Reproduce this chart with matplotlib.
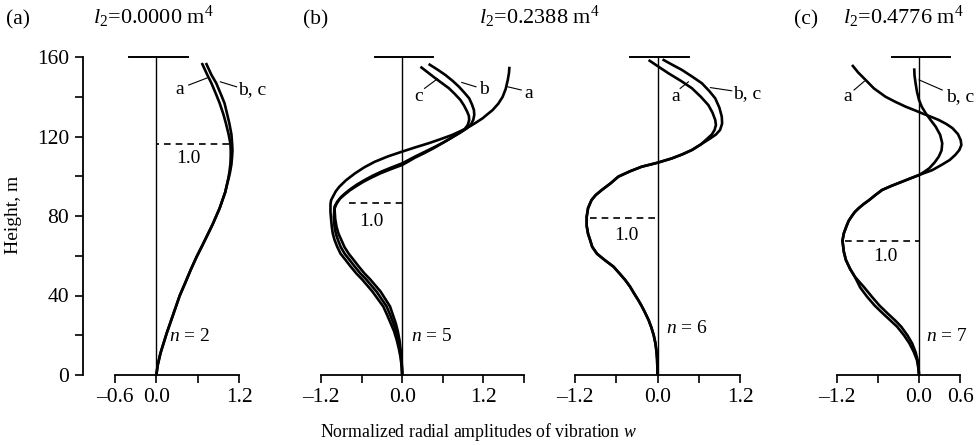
import matplotlib
matplotlib.use("Agg")
import matplotlib.pyplot as plt
from matplotlib.ticker import FixedLocator, FixedFormatter

plt.rcParams['font.family'] = ['Liberation Serif', 'DejaVu Serif']
plt.rcParams['mathtext.fontset'] = 'custom'
plt.rcParams['mathtext.rm'] = 'Liberation Serif'
plt.rcParams['mathtext.it'] = 'Liberation Serif:italic'

# ---------------- data ----------------
# Panel (a), n = 2
a_h = [0, 5, 11, 16, 21, 27, 33, 40, 46, 53, 59.5, 65, 71, 76, 80, 84, 88, 92, 95, 99, 102,
       106, 110, 113, 116.4, 121, 126.6, 131, 136.7, 141, 146.8, 151, 154, 157]
a_wa = [0, 0.02, 0.06, 0.105, 0.15, 0.21, 0.27, 0.34, 0.415, 0.50, 0.585, 0.665, 0.75, 0.82,
        0.87, 0.92, 0.96, 1.0, 1.02, 1.045, 1.06, 1.075, 1.08, 1.08, 1.075, 1.05, 1.01, 0.975,
        0.92, 0.87, 0.80, 0.74, 0.70, 0.66]
a_wbc = [0, 0.02, 0.06, 0.105, 0.15, 0.21, 0.27, 0.34, 0.415, 0.50, 0.585, 0.665, 0.75, 0.82,
         0.87, 0.92, 0.96, 1.0, 1.02, 1.05, 1.07, 1.09, 1.10, 1.105, 1.10, 1.09, 1.06, 1.03,
         0.99, 0.94, 0.87, 0.80, 0.76, 0.72]

# Panel (b) left, n = 5
b5_ha = [0, 4, 9, 13, 17.5, 22, 26, 30, 34.5, 38, 42, 45, 48, 51, 54.5, 58, 61, 64.5, 68, 71,
         74.5, 78, 82, 86, 88, 90, 92.5, 94.7, 98, 101.4, 104.5, 107.3, 110, 112.4, 114.5, 116.6,
         118.7, 120.8, 123, 125.3, 127.2, 129.2, 131.2, 133.3, 136.5, 140, 144, 148.4, 152, 155.1]
b5_wa = [0, -0.007, -0.025, -0.048, -0.08, -0.12, -0.17, -0.22, -0.28, -0.355, -0.44, -0.515,
         -0.59, -0.675, -0.76, -0.84, -0.91, -0.96, -1.0, -1.025, -1.04, -1.05, -1.06, -1.06,
         -1.05, -1.02, -0.98, -0.93, -0.83, -0.70, -0.56, -0.405, -0.21, 0, 0.19, 0.39, 0.57,
         0.74, 0.88, 1.01, 1.10, 1.19, 1.26, 1.336, 1.42, 1.485, 1.53, 1.56, 1.578, 1.585]
b5_hb = [0, 4, 9, 13, 17.5, 22, 26, 30, 34.5, 38, 42, 45, 48, 51, 54.5, 58, 61, 64.5, 68, 71,
         74.5, 79.5, 84.7, 87.2, 89.7, 91.8, 93.9, 96, 98.1, 100.2, 102.3, 104.4, 106.5, 108.2,
         109.9, 112.4, 114.9, 117.2, 119.6, 122, 124.2, 126.3, 128.3, 130.8, 133.3, 136.2,
         139.2, 142, 145, 148, 150.9, 153.7, 156.5]
b5_wb = [0, -0.005, -0.018, -0.035, -0.057, -0.09, -0.13, -0.175, -0.23, -0.30, -0.38, -0.455,
         -0.53, -0.615, -0.70, -0.78, -0.85, -0.91, -0.95, -0.98, -1.0, -1.01, -1.0, -0.96, -0.9,
         -0.83, -0.75, -0.66, -0.555, -0.44, -0.31, -0.16, 0, 0.095, 0.19, 0.34, 0.49, 0.62,
         0.74, 0.86, 0.96, 1.02, 1.05, 1.065, 1.06, 1.03, 0.99, 0.92, 0.84, 0.745, 0.64, 0.52,
         0.39]
b5_hc = [0, 4, 9, 13, 17.5, 22, 26, 30, 34.5, 38, 42, 45, 48, 51, 54.5, 58, 61, 64.5, 68, 71,
         74.5, 78.5, 83.7, 86.2, 88.7, 90.8, 93, 95.1, 97.3, 99.4, 101.5, 103.6, 105.7, 107.4,
         109.2, 111.7, 114.2, 116.6, 119, 121.3, 123.5, 125.9, 128.3, 130.4, 132.5, 135.5,
         138.4, 141.3, 144.3, 146.8, 149.3, 152.2, 155.1]
b5_wc = [0, -0.003, -0.012, -0.024, -0.04, -0.065, -0.095, -0.135, -0.18, -0.245, -0.32,
         -0.395, -0.47, -0.555, -0.64, -0.72, -0.79, -0.855, -0.90, -0.94, -0.97, -0.99, -1.0,
         -0.97, -0.92, -0.85, -0.77, -0.675, -0.57, -0.45, -0.32, -0.165, 0, 0.09, 0.18, 0.33,
         0.47, 0.59, 0.71, 0.82, 0.92, 0.97, 0.99, 0.985, 0.96, 0.915, 0.86, 0.78, 0.69, 0.59,
         0.49, 0.38, 0.27]

# Panel (b) right, n = 6 (shared lower part, then separate tops)
b6_h_low = [0, 4, 8, 12, 15.9, 20, 24, 27.7, 32, 35, 37.7, 41, 44.5, 47.8, 51, 54.5, 57.9, 61,
            64.5, 67.9, 71, 75, 79.6, 84, 88, 90.5, 93.1, 96.5, 99.8, 102.5, 104.8, 106.8, 109,
            111, 113.2, 116]
b6_w_low = [0, -0.002, -0.006, -0.015, -0.03, -0.055, -0.09, -0.13, -0.19, -0.235, -0.28, -0.34,
            -0.40, -0.47, -0.55, -0.64, -0.77, -0.88, -0.95, -0.98, -1.01, -1.03, -1.03, -1.01,
            -0.96, -0.90, -0.81, -0.68, -0.57, -0.40, -0.23, 0, 0.21, 0.36, 0.5, 0.63]
b6_h_a = [119.1, 121, 123.3, 125.8, 128.3, 132, 135.8, 140, 144.3, 148, 151.8, 155, 158.5]
b6_w_a = [0.73, 0.79, 0.83, 0.85, 0.84, 0.80, 0.74, 0.63, 0.50, 0.34, 0.16, 0.02, -0.13]
b6_h_bc = [119.1, 121, 123.3, 126.5, 130, 134.5, 139.2, 143, 146.8, 150, 153.5, 156, 158.8]
b6_w_bc = [0.77, 0.85, 0.91, 0.94, 0.935, 0.90, 0.84, 0.75, 0.645, 0.51, 0.355, 0.22, 0.073]

# Panel (c), n = 7
c_h_a = [0, 3.5, 7.5, 11.5, 15.9, 20, 24.3, 27.5, 31, 35, 39.4, 44, 49.5, 53.5, 57.9, 62, 67.6,
         71.3, 75, 77.5, 79.6, 82, 84, 86, 88, 90.5, 93.1, 95.2, 97.3, 99, 100.6, 103.1, 105.7,
         108.2, 110.7, 113.2, 115.7, 118.2, 121.2, 124.2, 126.3, 128.3, 130, 131.6, 133.3, 135,
         137.5, 140, 144.2, 148.4, 152.2, 156]
c_w_a = [0, -0.01, -0.03, -0.075, -0.14, -0.22, -0.32, -0.42, -0.53, -0.65, -0.76, -0.86, -0.94,
         -1.01, -1.07, -1.10, -1.12, -1.10, -1.06, -1.03, -0.99, -0.94, -0.88, -0.81, -0.73,
         -0.64, -0.54, -0.40, -0.245, -0.12, 0, 0.195, 0.33, 0.45, 0.53, 0.59, 0.62, 0.61, 0.57,
         0.49, 0.40, 0.29, 0.17, 0.05, -0.07, -0.195, -0.35, -0.49, -0.66, -0.78, -0.89, -0.98]
c_h_bc = [0, 3.5, 7.5, 11.5, 15.9, 20, 24.3, 27.5, 31, 35, 39.4, 44, 49.5, 53.5, 57.9, 62, 67.6,
          71.3, 75, 77.5, 79.6, 82, 84, 86, 88, 90.5, 93.1, 95.2, 97.3, 99, 100.6, 102.3, 104,
          107, 109.9, 113, 116.6, 120.8, 124.9, 128.3, 131.6, 135, 138.4, 142.6, 146.8, 150.5,
          154.3]
c_w_bc = [0, -0.006, -0.02, -0.05, -0.10, -0.17, -0.26, -0.35, -0.46, -0.58, -0.69, -0.80,
          -0.94, -1.01, -1.07, -1.10, -1.12, -1.10, -1.06, -1.03, -0.99, -0.94, -0.88, -0.81,
          -0.73, -0.64, -0.54, -0.40, -0.245, -0.12, 0, 0.08, 0.15, 0.23, 0.29, 0.33, 0.34,
          0.31, 0.245, 0.17, 0.10, 0.04, 0.0, -0.03, -0.05, -0.065, -0.07]

titles = [r'$l_2$=0.0000 m$^4$', r'$l_2$=0.2388 m$^4$', r'$l_2$=0.4776 m$^4$']
panel_tags = ['(a)', '(b)', '(c)']
mode_labels = [r'$n$ = 2', r'$n$ = 5', r'$n$ = 6', r'$n$ = 7']
yticks_major = [0, 40, 80, 120, 160]
yticks_minor = [20, 60, 100, 140]

# ---------------- figure ----------------
W, H = 980, 445
fig = plt.figure(figsize=(W / 100, H / 100), dpi=100)
Y0, Y1 = 375, 57
FS = 14
TFS = 15.5
LW = 1.9


def make_ax(x0, x1, xlim, ticks, labels, left_spine=False):
    ax = fig.add_axes([x0 / W, 1 - Y0 / H, (x1 - x0) / W, (Y0 - Y1) / H])
    ax.set_xlim(*xlim)
    ax.set_ylim(0, 160)
    ax.patch.set_alpha(0)
    for s in ['top', 'right']:
        ax.spines[s].set_visible(False)
    ax.spines['left'].set_visible(left_spine)
    ax.spines['bottom'].set_bounds(ticks[0], ticks[-1])
    for s in ['left', 'bottom']:
        ax.spines[s].set_linewidth(1.3)
    ax.xaxis.set_major_locator(FixedLocator(ticks))
    ax.xaxis.set_major_formatter(FixedFormatter(labels))
    ax.tick_params(axis='x', direction='out', length=6, width=1.2, labelsize=TFS, pad=3)
    if left_spine:
        ax.set_yticks(yticks_major)
        ax.set_yticks(yticks_minor, minor=True)
        ax.tick_params(axis='y', which='both', direction='out', length=6, width=1.2,
                       labelsize=TFS, pad=4)
    else:
        ax.set_yticks([])
    # reference vertical axis and top bar
    ax.plot([0, 0], [0, 160], color='black', lw=1.0, clip_on=False)
    ax.plot([-0.40, 0.46], [160, 160], color='black', lw=1.4, clip_on=False)
    return ax


def curve(ax, w, h):
    ax.plot(w, h, color='black', lw=LW, clip_on=False, solid_capstyle='butt',
            solid_joinstyle='round')


def dashed(ax, w0, h, lab_w, lab_h):
    ax.plot([w0, 0], [h, h], color='black', lw=1.2, dashes=(4, 3), clip_on=False)
    ax.text(lab_w, lab_h, '1.0', fontsize=FS, ha='center', va='center')


def tag(ax, txt, tx, ty, x0, y0, x1, y1, ha='center'):
    ax.plot([x0, x1], [y0, y1], color='black', lw=0.8, clip_on=False)
    ax.text(tx, ty, txt, fontsize=FS, ha=ha, va='center')


# Panel (a)
ax_a = make_ax(83, 239, (-1.065, 1.2), [-0.6, 0, 0.6, 1.2], ['–0.6', '0.0', '', '1.2'], True)
curve(ax_a, a_wa, a_h)
curve(ax_a, a_wbc, a_h)
dashed(ax_a, 1.06, 116.4, 0.46, 109)
tag(ax_a, 'a', 0.345, 143.4, 0.47, 145.9, 0.74, 149.5)
tag(ax_a, 'b, c', 1.18, 143.4, 0.93, 147.5, 1.165, 145, ha='left')
ax_a.text(0.49, 19.3, mode_labels[0], fontsize=FS, ha='center', va='center')

# Panel (b) left
ax_b5 = make_ax(321, 524, (-1.2, 1.8), [-1.2, -0.6, 0, 0.6, 1.2, 1.8],
                ['–1.2', '', '0.0', '', '1.2', ''])
curve(ax_b5, b5_wa, b5_ha)
curve(ax_b5, b5_wb, b5_hb)
curve(ax_b5, b5_wc, b5_hc)
dashed(ax_b5, -0.78, 86.7, -0.455, 77.1)
tag(ax_b5, 'c', 0.24, 140, 0.33, 144.2, 0.52, 149)
tag(ax_b5, 'b', 1.13, 143.4, 0.88, 147.2, 1.09, 145, ha='left')
tag(ax_b5, 'a', 1.80, 141.7, 1.56, 145, 1.76, 143.4, ha='left')
ax_b5.text(0.44, 19.3, mode_labels[1], fontsize=FS, ha='center', va='center')

# Panel (b) right
ax_b6 = make_ax(575, 740, (-1.2, 1.2), [-1.2, -0.6, 0, 0.6, 1.2], ['–1.2', '', '0.0', '', '1.2'])
curve(ax_b6, b6_w_low + b6_w_a, b6_h_low + b6_h_a)
curve(ax_b6, b6_w_low + b6_w_bc, b6_h_low + b6_h_bc)
dashed(ax_b6, -0.98, 79.1, -0.45, 70.4)
tag(ax_b6, 'a', 0.26, 140, 0.33, 144.2, 0.45, 147.5)
tag(ax_b6, 'b, c', 1.105, 141.7, 0.77, 144.6, 1.08, 143, ha='left')
ax_b6.text(0.43, 23.5, mode_labels[2], fontsize=FS, ha='center', va='center')

# Panel (c)
ax_c = make_ax(837, 960, (-1.2, 0.6), [-1.2, -0.6, 0, 0.6], ['–1.2', '', '0.0', '0.6'])
curve(ax_c, c_w_a, c_h_a)
curve(ax_c, c_w_bc, c_h_bc)
dashed(ax_c, -1.09, 67.6, -0.49, 59.5)
tag(ax_c, 'a', -1.05, 140, -0.95, 143.4, -0.80, 147.8)
tag(ax_c, 'b, c', 0.39, 140, 0.0, 148.5, 0.34, 143.4, ha='left')
ax_c.text(0.41, 19.3, mode_labels[3], fontsize=FS, ha='center', va='center')

# Titles and tags
yb = 1 - 24 / H
fig.text(6 / W, yb, panel_tags[0], fontsize=TFS, ha='left', va='baseline')
fig.text(153 / W, yb, titles[0], fontsize=16, ha='center', va='baseline')
fig.text(303 / W, yb, panel_tags[1], fontsize=TFS, ha='left', va='baseline')
fig.text(539 / W, yb, titles[1], fontsize=16, ha='center', va='baseline')
fig.text(794 / W, yb, panel_tags[2], fontsize=TFS, ha='left', va='baseline')
fig.text(903 / W, yb, titles[2], fontsize=16, ha='center', va='baseline')

fig.text(14 / W, 1 - 215 / H, 'Height, m', fontsize=FS, rotation=90, ha='center', va='center')
fig.text(478 / W, 1 - 432 / H, r'Normalized radial amplitudes of vibration $w$',
         fontsize=12.8, ha='center', va='center')

fig.savefig('out.png', dpi=100)
